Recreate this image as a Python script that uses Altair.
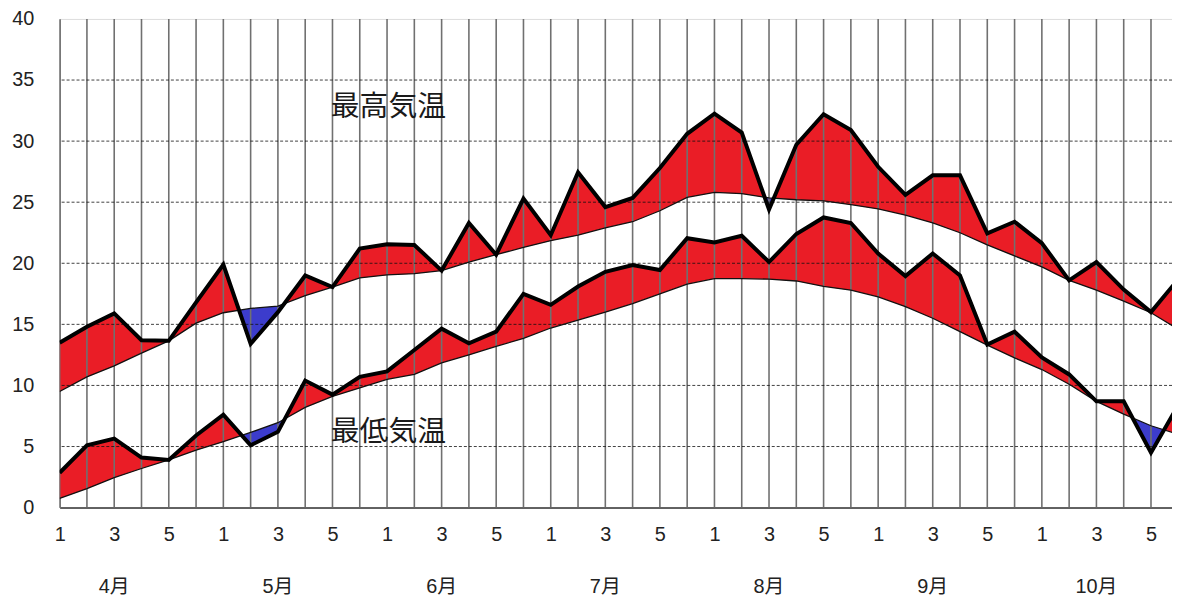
import altair as alt
import pandas as pd

# ---- data (pentads, Apr 1 .. Oct 6) ----
MONTHS = ["4月", "5月", "6月", "7月", "8月", "9月", "10月"]
PENTAD = list(range(42))

MAX_OBS = [13.5, 14.8, 15.9, 13.7, 13.65, 16.8, 19.9, 13.4, 16.0, 19.0,
           18.05, 21.2, 21.55, 21.5, 19.4, 23.3, 20.7, 25.3, 22.3, 27.45,
           24.6, 25.35, 27.8, 30.6, 32.25, 30.7, 24.4, 29.7, 32.2, 30.9,
           27.9, 25.6, 27.2, 27.2, 22.45, 23.4, 21.65, 18.6, 20.1, 17.85,
           16.0, 18.7]
MAX_NORM = [9.5, 10.7, 11.6, 12.65, 13.65, 15.1, 15.95, 16.3, 16.5, 17.35,
            18.05, 18.8, 19.05, 19.15, 19.4, 20.1, 20.7, 21.3, 21.85, 22.3,
            22.9, 23.4, 24.3, 25.4, 25.8, 25.7, 25.35, 25.2, 25.1, 24.8,
            24.45, 23.95, 23.3, 22.5, 21.5, 20.6, 19.7, 18.6, 17.8, 16.9,
            15.95, 14.6]
MIN_OBS = [2.85, 5.1, 5.65, 4.1, 3.9, 5.9, 7.6, 5.1, 6.2, 10.4,
           9.25, 10.7, 11.15, 12.9, 14.65, 13.45, 14.4, 17.5, 16.6, 18.1,
           19.3, 19.85, 19.45, 22.05, 21.7, 22.25, 20.1, 22.4, 23.75, 23.3,
           20.8, 18.95, 20.8, 19.0, 13.35, 14.4, 12.3, 10.9, 8.7, 8.7,
           4.5, 8.4]
MIN_NORM = [0.75, 1.55, 2.45, 3.2, 3.9, 4.7, 5.4, 6.15, 6.95, 8.2,
            9.1, 9.8, 10.5, 10.9, 11.85, 12.5, 13.2, 13.85, 14.7, 15.35,
            16.0, 16.7, 17.5, 18.3, 18.75, 18.75, 18.7, 18.55, 18.1, 17.8,
            17.25, 16.45, 15.5, 14.4, 13.3, 12.25, 11.3, 10.1, 8.7, 7.65,
            6.7, 6.0]

Y_TICKS = [0, 5, 10, 15, 20, 25, 30, 35, 40]
H_GRID = [5, 10, 15, 20, 25, 30, 35]
LABEL_HI = "最高気温"
LABEL_LO = "最低気温"

RED = "#EA1D26"
BLUE = "#3C3CCC"
GRID = "#707070"
FONT = "Liberation Sans, Noto Sans CJK JP, sans-serif"
CJK = "Noto Sans CJK JP, sans-serif"

W, H = 1120, 492
XMAX = 40.77


def band(obs, norm):
    rows = []
    n = len(obs)
    for i in range(n):
        rows.append(dict(x=PENTAD[i], obs=obs[i], norm=norm[i]))
        if i + 1 < n:
            d0 = obs[i] - norm[i]
            d1 = obs[i + 1] - norm[i + 1]
            if d0 * d1 < 0:
                t = d0 / (d0 - d1)
                v = norm[i] + t * (norm[i + 1] - norm[i])
                rows.append(dict(x=PENTAD[i] + t, obs=v, norm=v))
    df = pd.DataFrame(rows).sort_values("x").reset_index(drop=True)
    df["hi"] = df[["obs", "norm"]].max(axis=1)
    df["lo"] = df[["obs", "norm"]].min(axis=1)
    return df


band_max = band(MAX_OBS, MAX_NORM)
band_min = band(MIN_OBS, MIN_NORM)

lines = pd.concat([
    pd.DataFrame(dict(x=PENTAD, v=MAX_OBS, kind="max_obs", w="obs")),
    pd.DataFrame(dict(x=PENTAD, v=MIN_OBS, kind="min_obs", w="obs")),
    pd.DataFrame(dict(x=PENTAD, v=MAX_NORM, kind="max_norm", w="norm")),
    pd.DataFrame(dict(x=PENTAD, v=MIN_NORM, kind="min_norm", w="norm")),
], ignore_index=True)

label_expr = (
    "datum.value % 6 == 0 ? '1' : "
    "datum.value % 6 == 2 ? '3' : "
    "datum.value % 6 == 4 ? '5' : ''"
)

xscale = alt.Scale(domain=[0, XMAX], nice=False, zero=False)
yscale = alt.Scale(domain=[0, 40], nice=False, zero=False)
xaxis = alt.Axis(values=list(range(0, 41)), labelExpr=label_expr, grid=False,
                 ticks=False, domain=True, domainColor="#333333", domainWidth=1.5,
                 labelFontSize=20, labelFont=FONT, labelColor="#222222",
                 labelPadding=17, labelFlush=False,
                 labelOverlap=False, labelBound=False, title=None)
yaxis = alt.Axis(values=Y_TICKS, grid=False, ticks=False, domain=True,
                 domainColor=GRID, domainWidth=1.5, labelFontSize=20,
                 labelFont=FONT, labelColor="#222222", labelPadding=26, title=None)

X = alt.X("x:Q", scale=xscale, axis=xaxis)
Y = alt.Y("v:Q", scale=yscale, axis=yaxis)


def areas(df):
    r = alt.Chart(df).mark_area(color=RED, clip=True, opacity=1).encode(
        x=X, y=alt.Y("hi:Q", scale=yscale, axis=yaxis, stack=None), y2="norm:Q")
    b = alt.Chart(df).mark_area(color=BLUE, clip=True, opacity=1).encode(
        x=X, y=alt.Y("lo:Q", scale=yscale, axis=yaxis, stack=None), y2="norm:Q")
    return [r, b]


vgrid = alt.Chart(pd.DataFrame(dict(x=PENTAD))).mark_rule(
    color=GRID, strokeWidth=1.6, clip=True).encode(x=X)
hgrid = alt.Chart(pd.DataFrame(dict(v=H_GRID))).mark_rule(
    color="#111111", strokeWidth=0.8, strokeDash=[3, 2], clip=True).encode(y=Y)

norm_lines = alt.Chart(lines[lines.w == "norm"]).mark_line(
    color="#111111", strokeWidth=1.3, clip=True).encode(x=X, y=Y, detail="kind:N")
obs_lines = alt.Chart(lines[lines.w == "obs"]).mark_line(
    color="#000000", strokeWidth=4, clip=True, strokeJoin="miter").encode(
    x=X, y=Y, detail="kind:N")

labels = alt.Chart(pd.DataFrame(dict(x=[12.05, 12.05], v=[32.8, 6.2],
                                     t=[LABEL_HI, LABEL_LO]))).mark_text(
    font=CJK, fontSize=29, color="#1a1a1a", align="center", baseline="middle"
).encode(x=X, y=Y, text="t:N")

month_df = pd.DataFrame(dict(x=[2 + 6 * i for i in range(len(MONTHS))], m=MONTHS))
month_labels = alt.Chart(month_df).mark_text(
    font=FONT, fontSize=20, color="#222222", align="center", baseline="middle"
).encode(x=X, y=alt.value(H + 80), text="m:N")

chart = alt.layer(*areas(band_max), *areas(band_min), vgrid, hgrid, norm_lines,
                  obs_lines, labels, month_labels).properties(
    width=W, height=H,
    padding={"left": 52, "top": 9, "right": 0, "bottom": 90},
    autosize=alt.AutoSizeParams(type="none"),
).configure_view(stroke=GRID, strokeWidth=1.5).configure(background="white")

chart.save("out.html", embed_options={"renderer": "svg", "actions": False})
